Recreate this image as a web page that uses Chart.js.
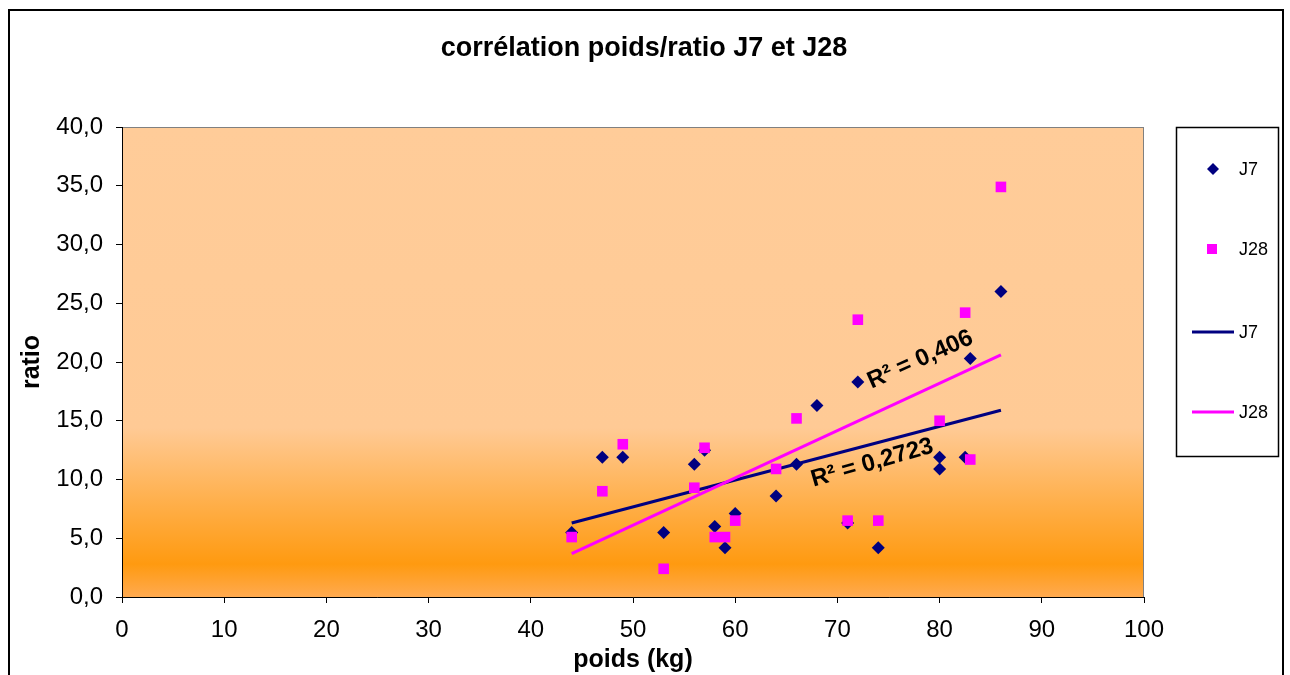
<!DOCTYPE html>
<html lang="fr">
<head>
    <meta charset="utf-8">
    <title>corrélation poids/ratio J7 et J28</title>
    <script src="https://cdn.jsdelivr.net/npm/chart.js"></script>
    <style>
        html, body { margin: 0; padding: 0; background: #ffffff; }
        #wrap { width: 1290px; height: 675px; position: relative; }
    </style>
</head>
<body>
<div id="wrap"><canvas id="myChart" width="1290" height="675"></canvas></div>
<script>
    // J7 : poids (kg) / ratio
    var j7Poids  = [44, 47, 49, 53, 56, 57, 58, 59, 60, 64, 66, 68, 71, 72, 74, 80, 80, 82.5, 83, 86];
    var j7Ratio  = [5.5, 11.9, 11.9, 5.5, 11.3, 12.5, 6.0, 4.2, 7.1, 8.6, 11.3, 16.3, 6.3, 18.3, 4.2, 11.9, 10.9, 11.9, 20.3, 26.0];

    // J28
    var j28Poids = [44, 47, 49, 53, 56, 57, 58, 59, 60, 64, 66, 71, 72, 74, 80, 82.5, 83, 86];
    var j28Ratio = [5.1, 9.0, 13.0, 2.4, 9.3, 12.7, 5.1, 5.1, 6.5, 10.9, 15.2, 6.5, 23.6, 6.5, 15.0, 24.2, 11.7, 34.9];

    // courbes de tendance (extrémités)
    var trendX    = [44, 86];
    var trendJ7   = [6.3, 15.9];
    var trendJ28  = [3.7, 20.6];
    var r2Labels  = ['R² = 0,2723', 'R² = 0,406'];

    var xTicks = [0, 10, 20, 30, 40, 50, 60, 70, 80, 90, 100];

    function pts(xs, ys) {
        var out = [];
        for (var i = 0; i < xs.length; i++) out.push({x: xs[i], y: ys[i]});
        return out;
    }

    var FONT = '"Liberation Sans", Arial, sans-serif';
    var NAVY = '#000080';
    var PINK = '#FF00FF';

    var decor = {
        id: 'decor',
        beforeDraw: function (chart) {
            var c = chart.ctx, a = chart.chartArea;
            c.save();
            c.fillStyle = '#ffffff';
            c.fillRect(0, 0, chart.width, chart.height);
            // outer frame
            c.strokeStyle = '#000';
            c.lineWidth = 2;
            c.strokeRect(9, 10, 1274, 700);
            // plot area gradient
            var g = c.createLinearGradient(0, a.top, 0, a.bottom);
            g.addColorStop(0, '#FFCC99');
            g.addColorStop(0.64, '#FFCA95');
            g.addColorStop(0.80, '#FFAF4A');
            g.addColorStop(0.93, '#FF9A10');
            g.addColorStop(1, '#FFAA50');
            c.fillStyle = g;
            c.fillRect(a.left, a.top, a.right - a.left, a.bottom - a.top);
            c.strokeStyle = '#808080';
            c.lineWidth = 1;
            c.strokeRect(a.left + 0.5, a.top + 0.5, a.right - a.left - 1, a.bottom - a.top);
            // title
            c.fillStyle = '#000';
            c.font = 'bold 27px ' + FONT;
            c.textAlign = 'center';
            c.textBaseline = 'middle';
            c.fillText('corrélation poids/ratio J7 et J28', 644, 49);
            c.restore();
        },
        afterDraw: function (chart) {
            var c = chart.ctx;
            var xs = chart.scales.x, ys = chart.scales.y;
            c.save();
            // R² labels
            var labs = [
                {t: r2Labels[0], x: 73.4, y: 11.4, rot: -16},
                {t: r2Labels[1], x: 78.1, y: 20.2, rot: -24}
            ];
            c.fillStyle = '#000';
            c.font = 'bold 24px ' + FONT;
            c.textAlign = 'center';
            c.textBaseline = 'middle';
            labs.forEach(function (l) {
                c.save();
                c.translate(xs.getPixelForValue(l.x), ys.getPixelForValue(l.y));
                c.rotate(l.rot * Math.PI / 180);
                c.fillText(l.t, 0, 0);
                c.restore();
            });
            // legend
            c.fillStyle = '#fff';
            c.fillRect(1176, 127, 102, 329);
            c.strokeStyle = '#000';
            c.lineWidth = 1.5;
            c.strokeRect(1176.5, 127.5, 102, 329);
            c.font = '18px ' + FONT;
            c.textAlign = 'left';
            c.fillStyle = NAVY;
            c.beginPath();
            c.moveTo(1213, 163); c.lineTo(1219, 169); c.lineTo(1213, 175); c.lineTo(1207, 169);
            c.closePath(); c.fill();
            c.fillStyle = PINK;
            c.fillRect(1207, 244, 10, 10);
            c.lineWidth = 3;
            c.strokeStyle = NAVY;
            c.beginPath(); c.moveTo(1192, 332); c.lineTo(1234, 332); c.stroke();
            c.strokeStyle = PINK;
            c.beginPath(); c.moveTo(1192, 412); c.lineTo(1234, 412); c.stroke();
            c.fillStyle = '#000';
            c.fillText('J7', 1239, 170);
            c.fillText('J28', 1239, 250);
            c.fillText('J7', 1239, 333);
            c.fillText('J28', 1239, 413);
            c.restore();
        }
    };

    var ctx = document.getElementById('myChart').getContext('2d');
    var myChart = new Chart(ctx, {
        type: 'scatter',
        data: {
            datasets: [
                {
                    label: 'J7 tendance',
                    type: 'line',
                    data: pts(trendX, trendJ7),
                    borderColor: NAVY,
                    borderWidth: 3,
                    pointRadius: 0,
                    fill: false,
                    order: 3
                },
                {
                    label: 'J28 tendance',
                    type: 'line',
                    data: pts(trendX, trendJ28),
                    borderColor: PINK,
                    borderWidth: 3,
                    pointRadius: 0,
                    fill: false,
                    order: 2
                },
                {
                    label: 'J7',
                    data: pts(j7Poids, j7Ratio),
                    pointStyle: 'rectRot',
                    pointRadius: 6.5,
                    backgroundColor: NAVY,
                    borderColor: NAVY,
                    borderWidth: 0,
                    order: 1
                },
                {
                    label: 'J28',
                    data: pts(j28Poids, j28Ratio),
                    pointStyle: 'rect',
                    pointRadius: 7.5,
                    backgroundColor: PINK,
                    borderColor: PINK,
                    borderWidth: 0,
                    order: 0
                }
            ]
        },
        plugins: [decor],
        options: {
            responsive: false,
            animation: false,
            layout: { padding: { left: 0, top: 127, right: 146, bottom: 0 } },
            plugins: {
                legend: { display: false },
                tooltip: { enabled: false }
            },
            scales: {
                x: {
                    type: 'linear',
                    min: 0,
                    max: 100,
                    afterBuildTicks: function (s) { s.ticks = xTicks.map(function (v) { return {value: v}; }); },
                    afterFit: function (s) { s.height = 78; },
                    border: { display: true, color: '#000', width: 1 },
                    grid: { drawOnChartArea: false, drawTicks: true, tickLength: 6, color: '#000' },
                    ticks: { color: '#000', font: { family: FONT, size: 24 }, padding: 13, maxRotation: 0 },
                    title: {
                        display: true,
                        text: 'poids (kg)',
                        color: '#000',
                        font: { family: FONT, size: 25, weight: 'bold' },
                        padding: { top: 0, bottom: 0 }
                    }
                },
                y: {
                    type: 'linear',
                    min: 0,
                    max: 40,
                    afterFit: function (s) { s.width = 122; },
                    border: { display: true, color: '#000', width: 1 },
                    grid: { drawOnChartArea: false, drawTicks: true, tickLength: 6, color: '#000' },
                    ticks: {
                        stepSize: 5,
                        color: '#000',
                        font: { family: FONT, size: 24 },
                        padding: 13,
                        callback: function (v) { return v.toFixed(1).replace('.', ','); }
                    },
                    title: {
                        display: true,
                        text: 'ratio',
                        color: '#000',
                        font: { family: FONT, size: 25, weight: 'bold' },
                        padding: { top: 17, bottom: 0 }
                    }
                }
            }
        }
    });
</script>
</body>
</html>
